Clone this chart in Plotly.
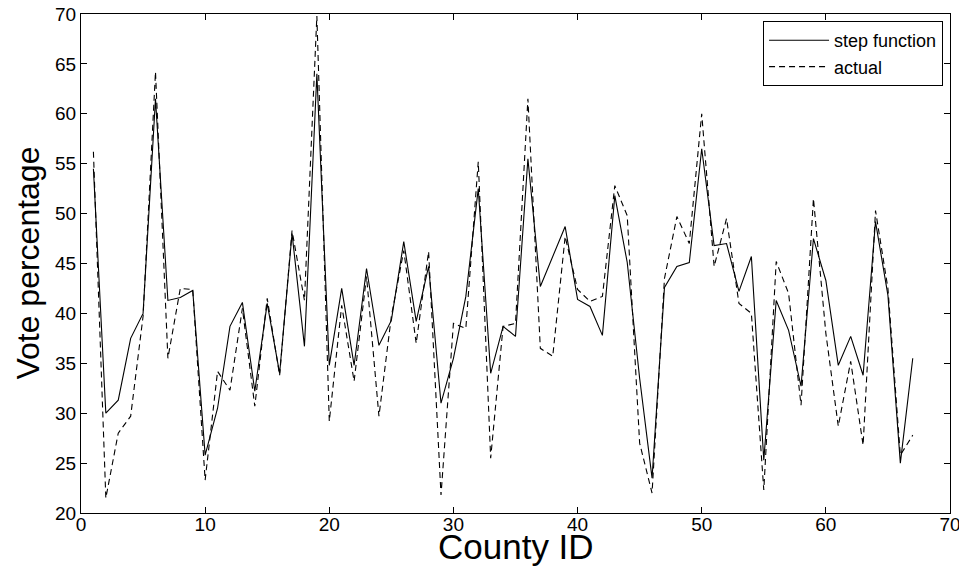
import plotly.graph_objects as go

county_id = list(range(1, 68))

step_function = [
    54.5, 30.0, 31.3, 37.5, 40.0, 61.5, 41.3, 41.6, 42.3, 25.8,
    30.5, 38.7, 41.1, 32.2, 41.0, 34.0, 48.0, 36.7, 64.0, 34.8,
    42.5, 34.8, 44.5, 36.8, 39.3, 47.2, 39.2, 44.7, 31.0, 35.5,
    41.7, 52.5, 34.0, 38.7, 37.7, 55.5, 42.7, 45.7, 48.7, 41.4,
    40.7, 37.8, 51.8, 45.1, 33.5, 23.5, 42.6, 44.7, 45.1, 56.5,
    46.8, 47.0, 42.2, 45.7, 25.3, 41.3, 38.3, 32.7, 47.5, 43.3,
    34.8, 37.7, 33.8, 49.2, 41.8, 25.0, 35.5,
]

actual = [
    56.2, 21.5, 28.0, 29.7, 39.7, 64.2, 35.5, 42.5, 42.4, 23.3,
    34.2, 32.3, 40.5, 30.7, 41.5, 33.8, 48.3, 41.3, 69.8, 29.2,
    40.8, 33.2, 43.7, 29.7, 39.7, 46.3, 37.0, 46.2, 21.8, 39.0,
    38.5, 55.2, 25.5, 38.7, 39.0, 61.5, 36.5, 35.7, 47.7, 42.4,
    41.2, 41.7, 52.8, 49.8, 27.0, 22.0, 43.5, 49.7, 47.0, 60.0,
    44.7, 49.5, 41.0, 40.0, 22.3, 45.2, 42.0, 30.8, 51.5, 38.0,
    28.7, 35.2, 26.8, 50.3, 42.5, 25.8, 27.8,
]

x_ticks = [0, 10, 20, 30, 40, 50, 60, 70]
y_ticks = [20, 25, 30, 35, 40, 45, 50, 55, 60, 65, 70]

x_title = "County ID"
y_title = "Vote percentage"

FONT = "Liberation Sans, Arial, sans-serif"

fig = go.Figure()
fig.add_trace(go.Scatter(
    x=county_id, y=step_function, mode="lines", name="step function",
    line=dict(color="black", width=1.1),
))
fig.add_trace(go.Scatter(
    x=county_id, y=actual, mode="lines", name="actual",
    line=dict(color="black", width=1.1, dash="6px,4px"),
))

axis_common = dict(
    showgrid=False, zeroline=False, showline=True, linecolor="black",
    linewidth=1.2, mirror="allticks", ticks="inside", ticklen=6,
    tickcolor="black", tickwidth=1, automargin=False,
    ticklabeloverflow="allow",
    tickfont=dict(family=FONT, size=19, color="black"),
)

# the page body adds an 8px offset, so the figure is 8px smaller and shifted
fig.update_layout(
    width=959, height=567,
    margin=dict(l=73, r=17, t=6, b=62),
    paper_bgcolor="white", plot_bgcolor="white",
    font=dict(family=FONT, color="black"),
    xaxis=dict(range=[0, 70], tickvals=x_ticks, ticklabelstandoff=-6,
               **axis_common),
    yaxis=dict(range=[20, 70], tickvals=y_ticks, ticklabelstandoff=0,
               **axis_common),
    legend=dict(
        x=0.992, xanchor="right", y=0.986, yanchor="top",
        bgcolor="white", bordercolor="black", borderwidth=1,
        font=dict(family=FONT, size=18, color="black"),
        tracegroupgap=0, itemwidth=60,
    ),
    showlegend=True,
    annotations=[
        dict(text=x_title, xref="paper", yref="paper", x=0.5, y=-0.024,
             xanchor="center", yanchor="top", showarrow=False,
             font=dict(family=FONT, size=35, color="black")),
        dict(text=y_title, xref="paper", yref="paper", x=-0.062, y=0.5,
             xanchor="center", yanchor="middle", showarrow=False,
             textangle=-90,
             font=dict(family=FONT, size=32, color="black")),
    ],
)

fig.write_html("out.html")
